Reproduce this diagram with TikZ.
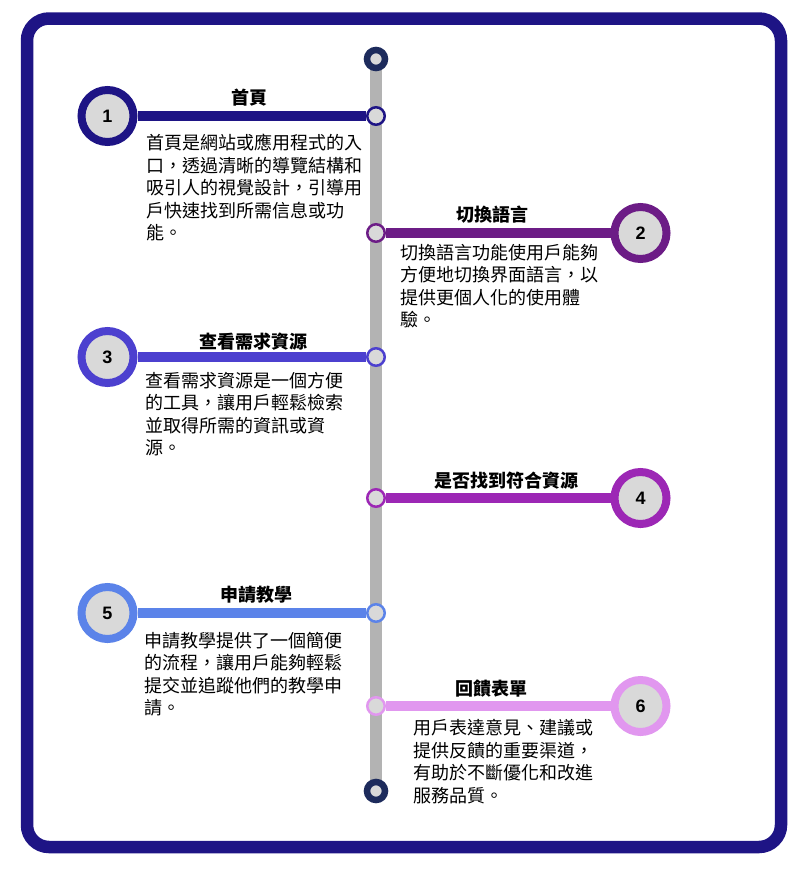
\documentclass[tikz,border=0pt]{standalone}
\usepackage{fontspec}
\newfontfamily\cjk{Noto Sans CJK TC}
\newfontfamily\numfont{Liberation Sans}
\newcommand\descfont{\cjk\fontsize{18}{22.4}\selectfont\lineskiplimit=-20pt\relax}

\definecolor{framec}{HTML}{1E1485}
\definecolor{railc}{HTML}{B3B3B3}
\definecolor{dotc}{HTML}{D9D9D9}
\definecolor{endc}{HTML}{1D2B5C}
\definecolor{cA}{HTML}{1E1485}
\definecolor{cB}{HTML}{6C1C86}
\definecolor{cC}{HTML}{4C40CF}
\definecolor{cD}{HTML}{9C27B5}
\definecolor{cE}{HTML}{5B83E9}
\definecolor{cF}{HTML}{E197EF}

\tikzset{
  frame/.style={line width=12.5pt, draw=framec, rounded corners=22pt},
  rail/.style={line width=12pt, draw=railc},
  endpoint/.style={circle, draw=endc, fill=dotc, line width=6.5pt, minimum size=18pt, inner sep=0pt},
  junction/.style={circle, draw=#1, fill=dotc, line width=2.5pt, minimum size=17.5pt, inner sep=0pt},
  badge/.style={circle, draw=#1, fill=dotc, line width=8pt, minimum size=52pt, inner sep=0pt,
    font=\numfont\bfseries\fontsize{18}{20}\selectfont},
  branch/.style={line width=10pt, draw=#1},
  title/.style={font=\cjk\bfseries\fontsize{18}{20}\selectfont, inner sep=0pt, anchor=center},
  desc/.style={font=\descfont, inner sep=0pt, align=left, anchor=base west}
}

\begin{document}
\begin{tikzpicture}[x=1pt, y=-1pt]
\useasboundingbox (0,0) rectangle (804,870);

% outer frame
\draw[frame] (27,18.5) rectangle (781,847);

% central rail with its two ends
\draw[rail] (376,59) -- (376,791);
\node[endpoint] (top) at (376,59) {};
\node[endpoint] (bottom) at (376,791) {};

% junctions on the rail
\node[junction=cA] (j1) at (376,116) {};
\node[junction=cB] (j2) at (376,233) {};
\node[junction=cC] (j3) at (376,357) {};
\node[junction=cD] (j4) at (376,498) {};
\node[junction=cE] (j5) at (376,613) {};
\node[junction=cF] (j6) at (376,706) {};

% numbered badges
\node[badge=cA] (b1) at (107.5,116) {1};
\node[badge=cB] (b2) at (640.5,233) {2};
\node[badge=cC] (b3) at (107.5,357) {3};
\node[badge=cD] (b4) at (640.5,498) {4};
\node[badge=cE] (b5) at (107.5,613) {5};
\node[badge=cF] (b6) at (640.5,706) {6};

% branches from badges to the rail
\draw[branch=cA] (b1.east) -- (j1.west);
\draw[branch=cB] (j2.east) -- (b2.west);
\draw[branch=cC] (b3.east) -- (j3.west);
\draw[branch=cD] (j4.east) -- (b4.west);
\draw[branch=cE] (b5.east) -- (j5.west);
\draw[branch=cF] (j6.east) -- (b6.west);

% titles
\node[title] (t1) at (249.5,98) {首頁};
\node[title] (t2) at (492,215) {切換語言};
\node[title] (t3) at (253.5,341.5) {查看需求資源};
\node[title] (t4) at (506.5,480.5) {是否找到符合資源};
\node[title] (t5) at (256.5,595) {申請教學};
\node[title] (t6) at (491.5,689) {回饋表單};

% descriptions (anchored on the baseline of the last line)
\node[desc] (d1) at (146.5,239.4) {首頁是網站或應用程式的入\\口，透過清晰的導覽結構和\\吸引人的視覺設計，引導用\\戶快速找到所需信息或功\\能。};
\node[desc] (d2) at (400,326.4) {切換語言功能使用戶能夠\\方便地切換界面語言，以\\提供更個人化的使用體\\驗。};
\node[desc] (d3) at (145,454.4) {查看需求資源是一個方便\\的工具，讓用戶輕鬆檢索\\並取得所需的資訊或資\\源。};
\node[desc] (d5) at (144.5,714.4) {申請教學提供了一個簡便\\的流程，讓用戶能夠輕鬆\\提交並追蹤他們的教學申\\請。};
\node[desc] (d6) at (413.5,802) {用戶表達意見、建議或\\提供反饋的重要渠道，\\有助於不斷優化和改進\\服務品質。};
\end{tikzpicture}
\end{document}
